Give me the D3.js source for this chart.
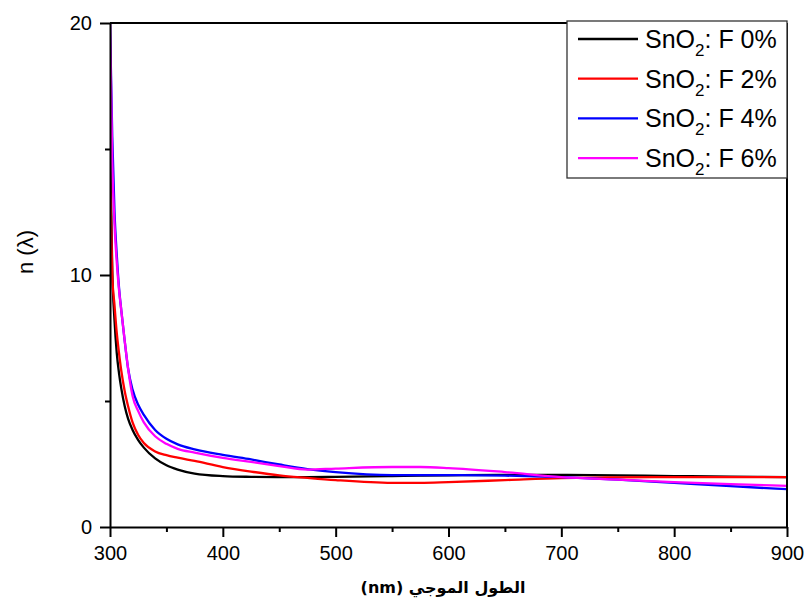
<!DOCTYPE html>
<html>
<head>
<meta charset="utf-8">
<script src="https://cdn.jsdelivr.net/npm/d3@7"></script>
<style>
  html, body { margin: 0; padding: 0; background: #fff; }
  svg { display: block; }
  text { font-family: "Liberation Sans", Arial, "DejaVu Sans", sans-serif; fill: #000; }
</style>
</head>
<body>
<svg id="chart" width="805" height="599"></svg>
<script>
// ---------------- data ----------------
const wavelengths = [300, 302, 304, 306, 308, 310, 313, 316, 320, 325, 330, 340, 350, 360, 375, 400, 425, 450, 475, 500, 550, 575, 600, 650, 700, 750, 800, 850, 900];
const nF0 = [15.6, 10.2, 8.2, 6.9, 6.1, 5.5, 4.8, 4.3, 3.85, 3.45, 3.15, 2.72, 2.45, 2.28, 2.12, 2.02, 1.99, 1.98, 1.98, 1.99, 2.02, 2.04, 2.05, 2.07, 2.07, 2.05, 2.02, 2.0, 1.98];
const nF2 = [14.0, 10.0, 8.8, 7.7, 6.9, 6.2, 5.4, 4.8, 4.15, 3.65, 3.33, 3.0, 2.85, 2.75, 2.62, 2.38, 2.2, 2.05, 1.95, 1.86, 1.75, 1.75, 1.78, 1.86, 1.94, 1.97, 1.98, 1.98, 1.98];
const nF4 = [20.0, 15.5, 12.5, 10.8, 9.5, 8.6, 7.4, 6.3, 5.45, 4.85, 4.45, 3.85, 3.5, 3.28, 3.08, 2.86, 2.68, 2.48, 2.3, 2.18, 2.06, 2.06, 2.06, 2.04, 1.98, 1.88, 1.75, 1.62, 1.5];
const nF6 = [20.0, 14.5, 12.0, 10.5, 9.4, 8.6, 7.4, 6.3, 5.2, 4.6, 4.15, 3.6, 3.3, 3.1, 2.95, 2.74, 2.58, 2.42, 2.28, 2.32, 2.38, 2.38, 2.34, 2.18, 1.98, 1.88, 1.78, 1.7, 1.63];
const seriesNames = ["F 0%", "F 2%", "F 4%", "F 6%"];
const seriesColors = ["#000000", "#ff0000", "#0000ff", "#ff00ff"];
const seriesValues = [nF0, nF2, nF4, nF6];
const xTicks = [300, 400, 500, 600, 700, 800, 900];
const xMinorTicks = [350, 450, 550, 650, 750, 850];
const yTicks = [0, 10, 20];
const yMinorTicks = [5, 15];
const xTitle = "الطول الموجي (nm)";
const yTitle = "n (λ)";

// ---------------- layout ----------------
const svg = d3.select("#chart");
const mLeft = 110, mRight = 787, mTop = 23, mBottom = 527;
const x = d3.scaleLinear().domain([300, 900]).range([mLeft, mRight]);
const y = d3.scaleLinear().domain([0, 20]).range([mBottom, mTop]);

const plot = svg.append("g");
plot.append("clipPath").attr("id", "clip").append("rect")
  .attr("x", mLeft).attr("y", mTop - 1).attr("width", mRight - mLeft).attr("height", mBottom - mTop + 1);

// curves
const line = d3.line().x((d, i) => x(wavelengths[i])).y(d => y(d)).curve(d3.curveMonotoneX);
const curves = plot.append("g").attr("clip-path", "url(#clip)");
seriesValues.forEach((vals, k) => {
  curves.append("path").datum(vals)
    .attr("d", line)
    .attr("fill", "none")
    .attr("stroke", seriesColors[k])
    .attr("stroke-width", 2.3)
    .attr("stroke-linejoin", "round");
});

// frame (top / right)
svg.append("line").attr("x1", mLeft).attr("x2", mRight).attr("y1", mTop).attr("y2", mTop)
  .attr("stroke", "#000").attr("stroke-width", 2);
svg.append("line").attr("x1", mRight).attr("x2", mRight).attr("y1", mTop).attr("y2", mBottom)
  .attr("stroke", "#000").attr("stroke-width", 2);

// x axis
const xAxis = svg.append("g").attr("transform", `translate(0,${mBottom})`)
  .call(d3.axisBottom(x).tickValues(xTicks).tickSize(10).tickSizeOuter(0).tickPadding(9).tickFormat(d3.format("d")));
const xMinor = svg.append("g").attr("transform", `translate(0,${mBottom})`)
  .call(d3.axisBottom(x).tickValues(xMinorTicks).tickSize(5).tickSizeOuter(0).tickFormat(""));
xMinor.select(".domain").remove();

// y axis
const yAxis = svg.append("g").attr("transform", `translate(${mLeft},0)`)
  .call(d3.axisLeft(y).tickValues(yTicks).tickSize(10).tickSizeOuter(0).tickPadding(8).tickFormat(d3.format("d")));
const yMinor = svg.append("g").attr("transform", `translate(${mLeft},0)`)
  .call(d3.axisLeft(y).tickValues(yMinorTicks).tickSize(5).tickSizeOuter(0).tickFormat(""));
yMinor.select(".domain").remove();

[xAxis, yAxis, xMinor, yMinor].forEach(g => {
  g.selectAll(".domain").attr("stroke", "#000").attr("stroke-width", 2);
  g.selectAll(".tick line").attr("stroke", "#000").attr("stroke-width", 2);
  g.selectAll(".tick text")
    .style("font-family", '"Liberation Sans", Arial, sans-serif')
    .style("font-size", "20px").attr("fill", "#000");
});

// axis titles
svg.append("text")
  .attr("x", 443).attr("y", 593)
  .attr("text-anchor", "middle")
  .attr("direction", "rtl")
  .style("font-family", '"DejaVu Sans", "Liberation Sans", sans-serif')
  .style("font-weight", "bold")
  .style("font-size", "16px")
  .text(xTitle);

svg.append("text")
  .attr("transform", "translate(33,252) rotate(-90)")
  .attr("text-anchor", "middle")
  .style("font-size", "22px")
  .text(yTitle);

// legend
const lg = svg.append("g");
lg.append("rect").attr("x", 567).attr("y", 21).attr("width", 220).attr("height", 157)
  .attr("fill", "#fff").attr("stroke", "#333").attr("stroke-width", 1.3);
seriesNames.forEach((name, k) => {
  const ly = 39 + k * 39.7;
  lg.append("line").attr("x1", 578).attr("x2", 638).attr("y1", ly).attr("y2", ly)
    .attr("stroke", seriesColors[k]).attr("stroke-width", 2.3);
  const t = lg.append("text").attr("x", 645).attr("y", ly + 9).style("font-size", "25px");
  t.append("tspan").text("SnO");
  t.append("tspan").attr("dy", 8).style("font-size", "17px").text("2");
  t.append("tspan").attr("dy", -8).text(": " + name);
});
</script>
</body>
</html>
